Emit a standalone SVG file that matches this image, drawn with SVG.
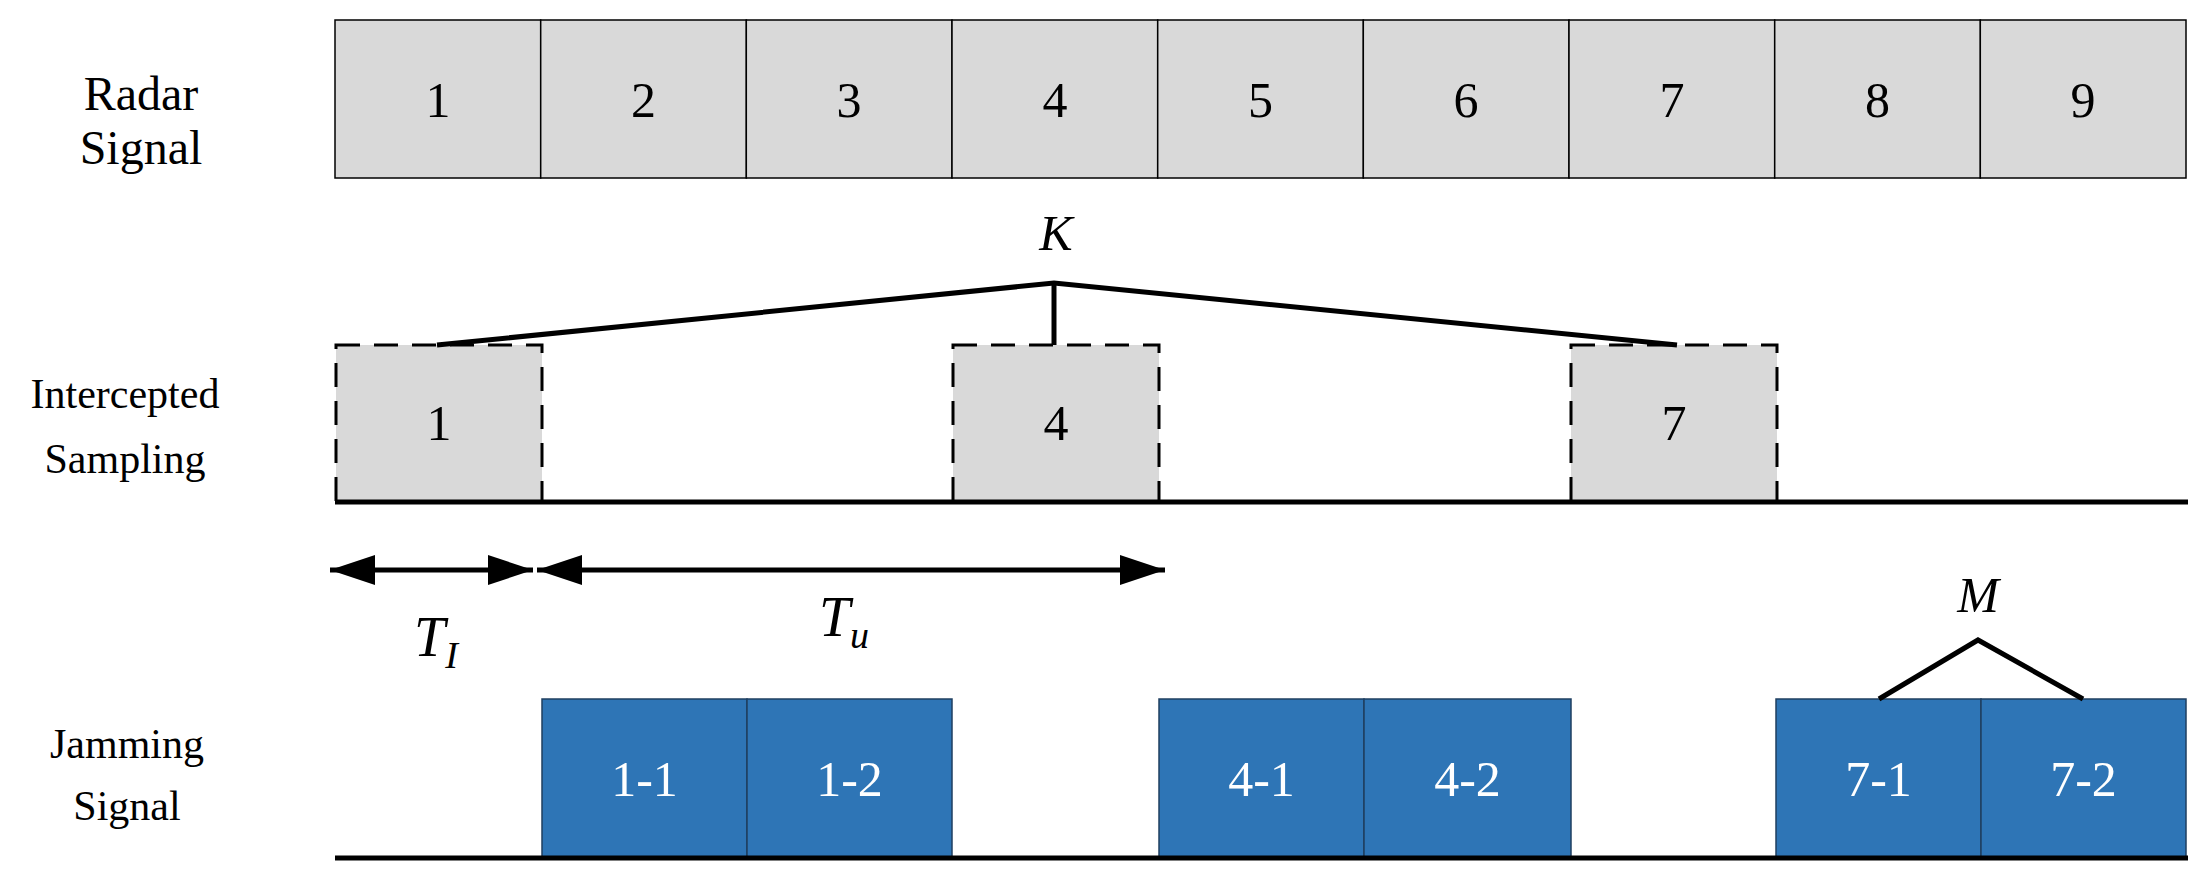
<svg xmlns="http://www.w3.org/2000/svg" width="2208" height="887" viewBox="0 0 2208 887">
<style>
text{font-family:"Liberation Serif",serif;text-anchor:middle}
.lab{font-size:48px}
.lab2{font-size:42px}
.num{font-size:50px}
.g{fill:#d9d9d9;stroke:#000;stroke-width:1.5}
.d{fill:#d9d9d9;stroke:#000;stroke-width:3;stroke-dasharray:24,14}
.b{fill:#2e75b6;stroke:#1f3f60;stroke-width:1.5}
.w{fill:#fff}
.it{font-style:italic}
.ln{stroke:#000;stroke-width:5;fill:none}
</style>
<defs><marker id="ah" viewBox="0 0 10 10" refX="10" refY="5" markerWidth="9" markerHeight="6" orient="auto-start-reverse" markerUnits="strokeWidth" preserveAspectRatio="none"><path d="M0,0L10,5L0,10z"/></marker></defs>
<g id="labels">
<text class="lab" x="141" y="110">Radar</text><text class="lab" x="141" y="164">Signal</text>
<text class="lab2" x="125" y="408">Intercepted</text><text class="lab2" x="125" y="473">Sampling</text>
<text class="lab2" x="127" y="758">Jamming</text><text class="lab2" x="127" y="820">Signal</text>
</g>
<g id="radar">
<rect class="g" x="335" y="20" width="205.7" height="158"/><text class="num" x="438" y="117">1</text>
<rect class="g" x="540.7" y="20" width="205.7" height="158"/><text class="num" x="643.5" y="117">2</text>
<rect class="g" x="746.3" y="20" width="205.7" height="158"/><text class="num" x="849" y="117">3</text>
<rect class="g" x="952" y="20" width="205.7" height="158"/><text class="num" x="1055" y="117">4</text>
<rect class="g" x="1157.7" y="20" width="205.7" height="158"/><text class="num" x="1260.5" y="117">5</text>
<rect class="g" x="1363.3" y="20" width="205.7" height="158"/><text class="num" x="1466" y="117">6</text>
<rect class="g" x="1569" y="20" width="205.7" height="158"/><text class="num" x="1672" y="117">7</text>
<rect class="g" x="1774.7" y="20" width="205.7" height="158"/><text class="num" x="1877.5" y="117">8</text>
<rect class="g" x="1980.3" y="20" width="205.7" height="158"/><text class="num" x="2083" y="117">9</text>
</g>
<g id="sampling">
<rect class="d" x="336" y="345" width="206" height="157"/><text class="num" x="439" y="440">1</text>
<rect class="d" x="953" y="345" width="206" height="157"/><text class="num" x="1056" y="440">4</text>
<rect class="d" x="1571" y="345" width="206" height="157"/><text class="num" x="1674" y="440">7</text>
</g>
<g id="jamming">
<rect class="b" x="542" y="699" width="205" height="159"/><text class="num w" x="644.5" y="796">1-1</text>
<rect class="b" x="747" y="699" width="205" height="159"/><text class="num w" x="849.5" y="796">1-2</text>
<rect class="b" x="1159" y="699" width="205" height="159"/><text class="num w" x="1261.5" y="796">4-1</text>
<rect class="b" x="1364" y="699" width="207" height="159"/><text class="num w" x="1467.5" y="796">4-2</text>
<rect class="b" x="1776" y="699" width="205" height="159"/><text class="num w" x="1878.5" y="796">7-1</text>
<rect class="b" x="1981" y="699" width="205" height="159"/><text class="num w" x="2083.5" y="796">7-2</text>
</g>
<g id="connectors">
<line class="ln" x1="335" y1="502" x2="2188" y2="502"/>
<line class="ln" x1="335" y1="858" x2="2188" y2="858"/>
<polyline class="ln" points="437,345 1054,283 1677,345"/>
<line class="ln" x1="1054" y1="283" x2="1054" y2="345"/>
<polyline class="ln" points="1879,699 1978,640 2083,699"/>
<line class="ln" x1="330" y1="570" x2="533" y2="570" marker-start="url(#ah)" marker-end="url(#ah)"/>
<line class="ln" x1="537" y1="570" x2="1165" y2="570" marker-start="url(#ah)" marker-end="url(#ah)"/>
</g>
<g id="symbols">
<text class="num it" x="1056" y="250">K</text>
<text class="num it" x="1978" y="612">M</text>
<text class="it" x="436" y="656" style="font-size:56px">T<tspan style="font-size:38px" dy="12">I</tspan></text>
<text class="it" x="844" y="636" style="font-size:56px">T<tspan style="font-size:38px" dy="12">u</tspan></text>
</g>
</svg>
